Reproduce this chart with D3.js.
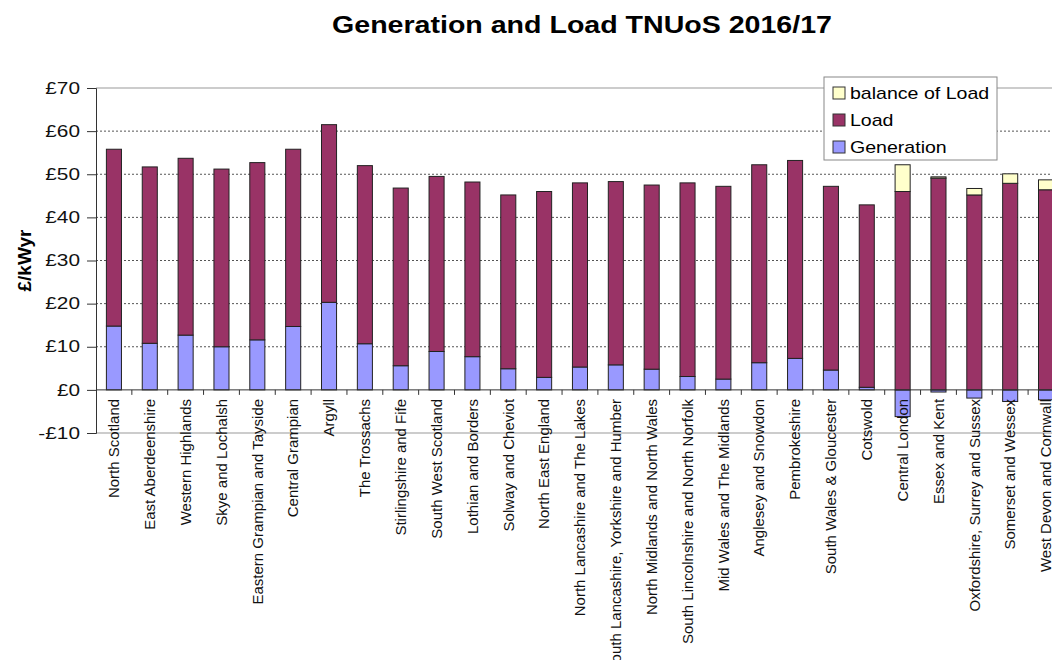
<!DOCTYPE html>
<html>
<head>
<meta charset="utf-8">
<script src="https://cdn.jsdelivr.net/npm/d3@7"></script>
<style>
  body { margin: 0; background: #fff; }
  svg { display: block; font-family: "Liberation Sans", Arial, sans-serif; }
</style>
</head>
<body>
<div id="chart"></div>
<script>
// zones, in chart order
const zones = [
  "North Scotland", "East Aberdeenshire", "Western Highlands", "Skye and Lochalsh",
  "Eastern Grampian and Tayside", "Central Grampian", "Argyll", "The Trossachs",
  "Stirlingshire and Fife", "South West Scotland", "Lothian and Borders", "Solway and Cheviot",
  "North East England", "North Lancashire and The Lakes", "South Lancashire, Yorkshire and Humber",
  "North Midlands and North Wales", "South Lincolnshire and North Norfolk", "Mid Wales and The Midlands",
  "Anglesey and Snowdon", "Pembrokeshire", "South Wales & Gloucester", "Cotswold",
  "Central London", "Essex and Kent", "Oxfordshire, Surrey and Sussex", "Somerset and Wessex",
  "West Devon and Cornwall"
];

// £/kWyr
const generation = [14.8, 10.8, 12.7, 10.0, 11.6, 14.7, 20.3, 10.7, 5.6, 8.9, 7.7, 4.9, 2.9, 5.3,
                    5.8, 4.8, 3.1, 2.5, 6.3, 7.3, 4.6, 0.6, -6.2, -0.5, -1.9, -2.7, -2.3];
const load = [41.0, 40.9, 41.0, 41.2, 41.1, 41.1, 41.2, 41.3, 41.2, 40.6, 40.5, 40.3, 43.1, 42.7,
              42.5, 42.7, 44.9, 44.7, 45.9, 45.9, 42.6, 42.3, 46.0, 49.1, 45.2, 47.9, 46.4];
const balance = [0, 0, 0, 0, 0, 0, 0, 0, 0, 0, 0, 0, 0, 0,
                 0, 0, 0, 0, 0, 0, 0, 0, 6.2, 0.3, 1.5, 2.2, 2.3];

const yTicks = [-10, 0, 10, 20, 30, 40, 50, 60, 70];
const seriesNames = ["Generation", "Load", "balance of Load"];
const colours = ["#9999ff", "#993366", "#ffffcc"];

//-----------------------------SVG------------------------------//
const width = 1052;
const height = 660;
const left = 96;
const step = 35.85;
const plotTop = 88;
const plotBottom = 433;

const svg = d3.select("#chart")
  .append("svg")
  .attr("width", width)
  .attr("height", height);

// the original picture is a bit wider than tall, so horizontal text is stretched
function stretch(sel, k) {
  sel.each(function() {
    const w = this.getComputedTextLength();
    d3.select(this).attr("textLength", w * k).attr("lengthAdjust", "spacingAndGlyphs");
  });
}

//-----------------------------DATA-----------------------------//
const rows = zones.map(function(z, i) {
  return { zone: z, "Generation": generation[i], "Load": load[i], "balance of Load": balance[i] };
});
const stacked = d3.stack()
  .keys(seriesNames)
  .offset(d3.stackOffsetDiverging)(rows);

//----------------------------SCALES----------------------------//
const xScale = d3.scaleBand()
  .domain(zones)
  .range([left, left + step * zones.length])
  .paddingInner(0.58)
  .paddingOuter(0.29);
const yScale = d3.scaleLinear().domain([-10, 70]).range([plotBottom, plotTop]);

//----------------------------TITLE-----------------------------//
svg.append("text")
  .attr("x", 582)
  .attr("y", 33)
  .attr("text-anchor", "middle")
  .style("font-size", "24px")
  .style("font-weight", "bold")
  .text("Generation and Load TNUoS 2016/17")
  .call(stretch, 1.19);

//----------------------------GRID------------------------------//
svg.append("g")
  .selectAll("line")
  .data(yTicks.filter(function(d) { return d > 0 && d < 70; }))
  .enter()
  .append("line")
  .attr("x1", left).attr("x2", width)
  .attr("y1", function(d) { return yScale(d); })
  .attr("y2", function(d) { return yScale(d); })
  .attr("stroke", "#555")
  .attr("stroke-width", 1)
  .attr("stroke-dasharray", "2,2");

// plot border top and bottom
[70, -10].forEach(function(v) {
  svg.append("line")
    .attr("x1", left).attr("x2", width)
    .attr("y1", yScale(v)).attr("y2", yScale(v))
    .attr("stroke", "#999");
});

//----------------------------BARS------------------------------//
svg.append("g")
  .selectAll("g")
  .data(stacked)
  .enter()
  .append("g")
  .attr("fill", function(d, i) { return colours[i]; })
  .selectAll("rect")
  .data(function(d) { return d.filter(function(p) { return p[1] !== p[0]; }); })
  .enter()
  .append("rect")
  .attr("x", function(d) { return xScale(d.data.zone); })
  .attr("width", xScale.bandwidth())
  .attr("y", function(d) { return yScale(Math.max(d[0], d[1])); })
  .attr("height", function(d) { return Math.abs(yScale(d[0]) - yScale(d[1])); })
  .attr("stroke", "#222")
  .attr("stroke-width", 1);

//-----------------------------AXES-----------------------------//
const yaxis = d3.axisLeft(yScale)
  .tickValues(yTicks)
  .tickSize(9)
  .tickPadding(7)
  .tickFormat(function(d) { return (d < 0 ? "-£" : "£") + Math.abs(d); });

const gy = svg.append("g")
  .attr("transform", "translate(" + left + ",0)")
  .call(yaxis);
gy.select(".domain").attr("stroke", "#333");
gy.selectAll(".tick line").attr("stroke", "#333");
gy.selectAll("text").style("font-size", "16px").attr("fill", "#111").call(stretch, 1.3);

const xaxis = d3.axisBottom(xScale).tickSize(0).tickPadding(0);
const gx = svg.append("g")
  .attr("transform", "translate(0," + yScale(0) + ")")
  .call(xaxis);
gx.select(".domain").attr("d", "M" + left + ",0H" + width).attr("stroke", "#333");
gx.selectAll("text")
  .attr("transform", "rotate(-90)")
  .attr("x", -9)
  .attr("y", 0)
  .attr("dy", ".35em")
  .style("text-anchor", "end")
  .style("font-size", "15px")
  .attr("fill", "#111");

// category boundary ticks
gx.append("g")
  .selectAll("line")
  .data(zones.slice(1))
  .enter()
  .append("line")
  .attr("x1", function(d) { return xScale(d) - xScale.step() * 0.29; })
  .attr("x2", function(d) { return xScale(d) - xScale.step() * 0.29; })
  .attr("y1", 0).attr("y2", 5)
  .attr("stroke", "#333");

svg.append("text")
  .attr("transform", "translate(31," + (plotTop + plotBottom) / 2 + ") rotate(-90)")
  .attr("text-anchor", "middle")
  .style("font-size", "19px")
  .style("font-weight", "bold")
  .text("£/kWyr");

//----------------------------LEGEND----------------------------//
const legend = svg.append("g").attr("transform", "translate(824,77)");
legend.append("rect")
  .attr("width", 173).attr("height", 83)
  .attr("fill", "#fff")
  .attr("stroke", "#888");
const order = [2, 1, 0];
order.forEach(function(si, k) {
  const row = legend.append("g").attr("transform", "translate(9," + (16 + k * 27) + ")");
  row.append("rect")
    .attr("x", 0).attr("y", -6)
    .attr("width", 12).attr("height", 12)
    .attr("fill", colours[si])
    .attr("stroke", "#333");
  row.append("text")
    .attr("x", 17).attr("y", 0)
    .attr("dy", ".36em")
    .style("font-size", "17px")
    .text(seriesNames[si])
    .call(stretch, 1.15);
});
</script>
</body>
</html>
